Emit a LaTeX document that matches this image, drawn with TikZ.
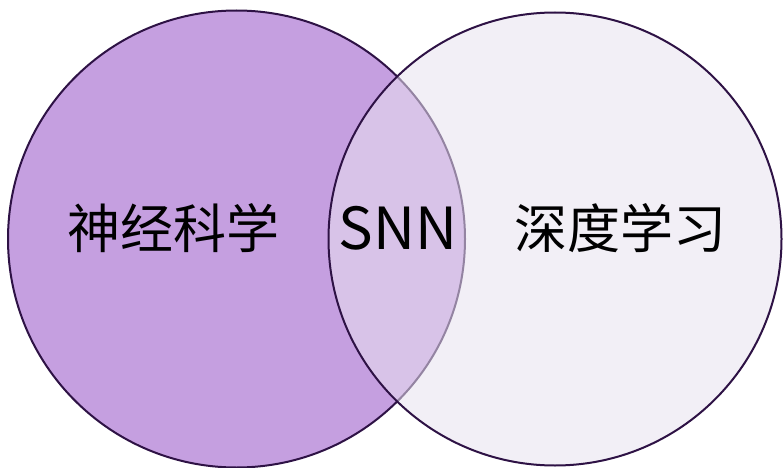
\documentclass[tikz,border=0pt]{standalone}
\usepackage{fontspec}
\setmainfont{Noto Sans CJK SC}
\newfontfamily\cjk{Noto Sans CJK SC}
\definecolor{leftfill}{RGB}{197,159,224}
\definecolor{rightfill}{RGB}{232,226,239}
\definecolor{edge}{RGB}{46,18,69}
\begin{document}
\begin{tikzpicture}[x=1pt,y=-1pt,
  ring/.style={draw=edge,line width=2pt},
  lbl/.style={font=\cjk\fontsize{53}{60}\selectfont,inner sep=0pt,anchor=center}]
\useasboundingbox (0,0) rectangle (784,468);
\fill[white] (0,0) rectangle (784,468);
\node[ring,fill=leftfill,circle,minimum size=457pt,inner sep=0pt] (L) at (236.5,239) {};
\node[ring,fill=rightfill,fill opacity=0.55,draw opacity=1,circle,minimum size=453pt,inner sep=0pt] (R) at (555,239) {};
\node[lbl] (a) at (173,228) {神经科学};
\node[lbl,font=\cjk\fontsize{58}{64}\selectfont] (s) at (398,228) {SNN};
\node[lbl] (b) at (620,228) {深度学习};
\end{tikzpicture}
\end{document}
